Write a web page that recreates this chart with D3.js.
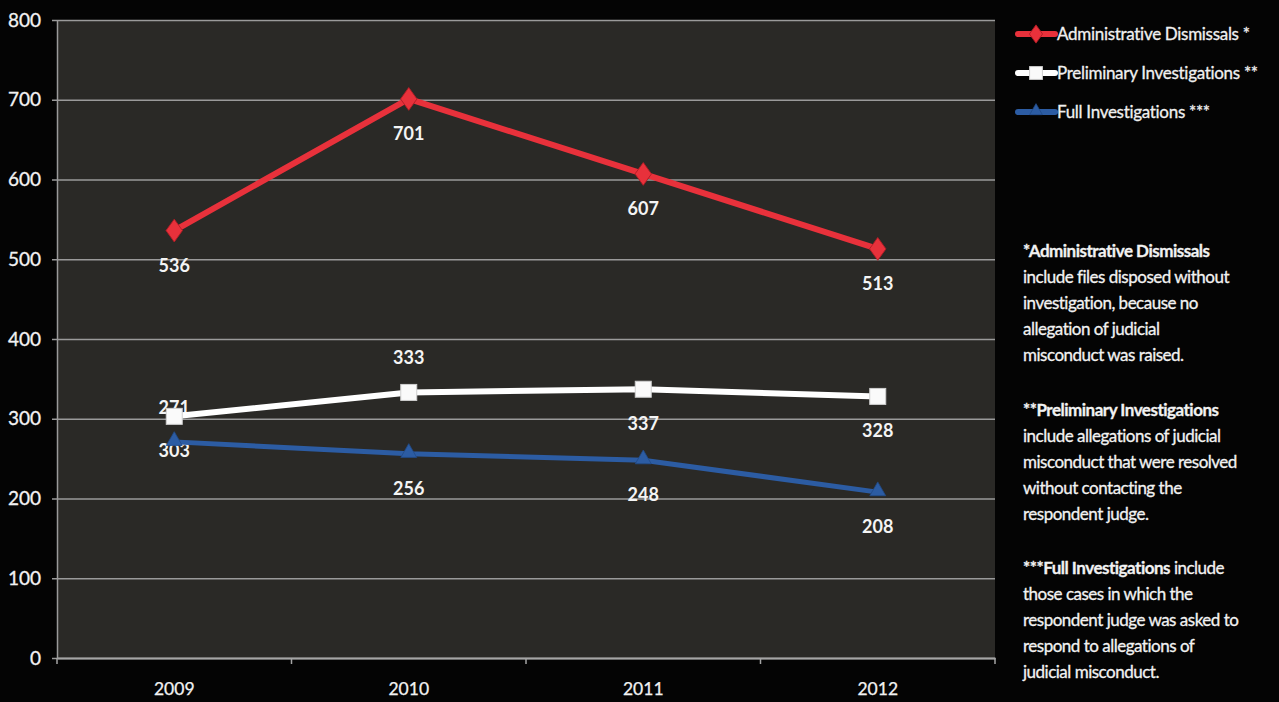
<!DOCTYPE html>
<html>
<head>
<meta charset="utf-8">
<script src="https://cdn.jsdelivr.net/npm/d3@7"></script>
<style>
  html, body { margin: 0; padding: 0; background: #040404; }
  svg { display: block; }
  text { font-family: Lato, "Open Sans", sans-serif; }
</style>
</head>
<body>
<svg id="chart" width="1279" height="702"></svg>
<script>
// Judicial complaint dispositions by year
const years = ["2009", "2010", "2011", "2012"];
const adminDismissals = [536, 701, 607, 513];
const preliminaryInvestigations = [303, 333, 337, 328];
const fullInvestigations = [271, 256, 248, 208];
const yTicks = [0, 100, 200, 300, 400, 500, 600, 700, 800];

const seriesNames = ["Administrative Dismissals *", "Preliminary Investigations **", "Full Investigations ***"];
// label side for each point: 1 = below, -1 = above
const adminLabelSide = [1, 1, 1, 1];
const prelimLabelSide = [1, -1, 1, 1];
const fullLabelSide = [-1, 1, 1, 1];

const notes = [
  [{b: "*Administrative Dismissals"}, "include files disposed without", "investigation, because no", "allegation of judicial", "misconduct was raised."],
  [{b: "**Preliminary Investigations"}, "include  allegations of judicial", "misconduct that were resolved", "without contacting the", "respondent judge."],
  [{b: "***Full Investigations", r: " include"}, "those cases in which the", "respondent judge was asked to", "respond to allegations of", "judicial misconduct."]
];

const series = [
  {name: seriesNames[0], values: adminDismissals, side: adminLabelSide, color: "#e8313b", marker: "diamond", width: 6},
  {name: seriesNames[1], values: preliminaryInvestigations, side: prelimLabelSide, color: "#ffffff", marker: "square", width: 6},
  {name: seriesNames[2], values: fullInvestigations, side: fullLabelSide, color: "#2c5ca3", marker: "triangle", width: 5}
];

const svg = d3.select("#chart");
const plot = {left: 57, right: 995, top: 20, bottom: 658};

const x = d3.scaleBand().domain(years).range([plot.left, plot.right]);
const y = d3.scaleLinear().domain([0, 800]).range([plot.bottom, plot.top]);

// plot background
svg.append("rect")
  .attr("x", plot.left).attr("y", plot.top)
  .attr("width", plot.right - plot.left).attr("height", plot.bottom - plot.top)
  .attr("fill", "#2a2926");

// horizontal gridlines and y labels
const yAxis = svg.append("g").attr("transform", `translate(${plot.left},0)`)
  .call(d3.axisLeft(y).tickValues(yTicks).tickSize(-(plot.right - plot.left)).tickSizeOuter(0).tickPadding(16));
yAxis.select(".domain").attr("stroke", "#9a9a9a").attr("stroke-width", 1.5);
yAxis.selectAll(".tick line").attr("stroke", "#9a9a9a").attr("stroke-width", 1.3)
  .attr("x1", -5);
yAxis.selectAll(".tick text").attr("fill", "#f2f2f2").attr("font-size", 19)
  .attr("stroke", "#f2f2f2").attr("stroke-width", 0.3);

// category axis
const xAxis = svg.append("g").attr("transform", `translate(0,${plot.bottom})`)
  .call(d3.axisBottom(x).tickSize(0).tickPadding(25));
xAxis.select(".domain").attr("stroke", "#a5a5a5").attr("stroke-width", 2);
xAxis.selectAll(".tick text").attr("fill", "#f2f2f2").attr("font-size", 17.5)
  .attr("stroke", "#f2f2f2").attr("stroke-width", 0.25);
// tick marks at category boundaries
const bounds = years.map(d => x(d)).concat([x(years[years.length - 1]) + x.bandwidth()]);
svg.append("g").selectAll("line").data(bounds).join("line")
  .attr("x1", d => d).attr("x2", d => d)
  .attr("y1", plot.bottom).attr("y2", plot.bottom + 6)
  .attr("stroke", "#a5a5a5").attr("stroke-width", 1.5);

const cx = d => x(d) + x.bandwidth() / 2;

function drawMarker(g, type, color, px, py, k = 1) {
  if (type === "diamond") {
    g.append("path").attr("d", d3.symbol(d3.symbolDiamond, 150 * k * k)())
      .attr("transform", `translate(${px},${py}) scale(1.25,1)`)
      .attr("fill", color).attr("stroke", "#b01c25").attr("stroke-width", 0.8);
  } else if (type === "square") {
    const h = 8 * k;
    g.append("rect").attr("x", px - h).attr("y", py - h).attr("width", 2 * h).attr("height", 2 * h)
      .attr("fill", "#fafafa").attr("stroke", "#cfcfcf").attr("stroke-width", 1);
  } else {
    g.append("path").attr("d", d3.symbol(d3.symbolTriangle, 110 * k * k)())
      .attr("transform", `translate(${px},${py - 1})`)
      .attr("fill", color).attr("stroke", "#214a86").attr("stroke-width", 0.8);
  }
}

const line = d3.line().x((d, i) => cx(years[i])).y(d => y(d));

// data labels go under the marks so markers sit on top of any overlap
const labelLayer = svg.append("g");
const markLayer = svg.append("g");

series.slice().reverse().forEach(s => {
  const g = markLayer.append("g");
  g.append("path").datum(s.values).attr("d", line)
    .attr("fill", "none").attr("stroke", s.color).attr("stroke-width", s.width)
    .attr("stroke-linejoin", "round");
  s.values.forEach((v, i) => drawMarker(g, s.marker, s.color, cx(years[i]), y(v)));
  labelLayer.selectAll(null).data(s.values).join("text")
    .attr("x", (d, i) => cx(years[i]))
    .attr("y", (d, i) => y(d) + (s.side[i] > 0 ? 41 : -28))
    .attr("text-anchor", "middle")
    .attr("font-size", 18).attr("font-weight", "bold").attr("fill", "#f4f4f4")
    .text(d => d);
});

// legend
const legend = svg.append("g");
series.forEach((s, i) => {
  const ly = 34 + i * 39;
  const lg = legend.append("g");
  lg.append("line").attr("x1", 1018).attr("x2", 1055).attr("y1", ly).attr("y2", ly)
    .attr("stroke", s.color).attr("stroke-width", 6).attr("stroke-linecap", "round");
  drawMarker(lg, s.marker, s.color, 1036, ly, 0.8);
  lg.append("text").attr("x", 1057).attr("y", ly + 6)
    .attr("font-size", 17).attr("fill", "#f0f0f0").attr("letter-spacing", -0.3)
    .attr("stroke", "#f0f0f0").attr("stroke-width", 0.3)
    .text(s.name);
});

// footnotes
const noteTops = [257, 416, 574];
notes.forEach((lines, k) => {
  const t = svg.append("text").attr("x", 1023).attr("y", noteTops[k])
    .attr("font-size", 17).attr("fill", "#f2f2f2").attr("letter-spacing", -0.5)
    .attr("stroke", "#f2f2f2").attr("stroke-width", 0.3);
  lines.forEach((ln, j) => {
    if (typeof ln === "object") {
      const ts = t.append("tspan").attr("x", 1023).attr("dy", 0);
      ts.append("tspan").attr("font-weight", "bold").text(ln.b);
      if (ln.r) ts.append("tspan").text(ln.r);
    } else {
      t.append("tspan").attr("x", 1023).attr("dy", 26).text(ln);
    }
  });
});
</script>
</body>
</html>
